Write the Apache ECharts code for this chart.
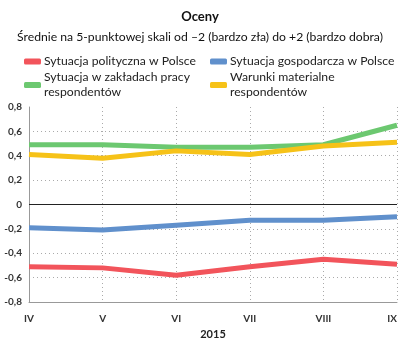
<!DOCTYPE html>
<html><head><meta charset="utf-8">
<script src="https://cdn.jsdelivr.net/npm/echarts@6/dist/echarts.min.js"></script>
<style>html,body{margin:0;padding:0;background:#fff}#c{width:400px;height:339px}</style>
</head><body><div id="c"></div>
<script>
// Months of 2015 (Roman numerals)
const months = ['IV', 'V', 'VI', 'VII', 'VIII', 'IX'];
// Mean ratings on a -2..+2 scale
const polityczna = [-0.51, -0.52, -0.58, -0.51, -0.45, -0.49];
const gospodarcza = [-0.19, -0.21, -0.17, -0.13, -0.13, -0.10];
const zaklady = [0.49, 0.49, 0.47, 0.47, 0.49, 0.65];
const warunki = [0.41, 0.38, 0.44, 0.41, 0.48, 0.51];

const names = {
  pol: 'Sytuacja polityczna w Polsce',
  gos: 'Sytuacja gospodarcza w Polsce',
  zak: 'Sytuacja w zakładach pracy\nrespondentów',
  war: 'Warunki materialne\nrespondentów'
};
const colors = { pol: '#f2545b', gos: '#6090cc', zak: '#6cc870', war: '#f6c218' };
const font = 'Lato, "Noto Sans", sans-serif';

function line(key, data, extra) {
  return Object.assign({
    name: names[key], type: 'line', data: data, symbol: 'none',
    lineStyle: { width: 5, color: colors[key] }, itemStyle: { color: colors[key] }
  }, extra || {});
}

const chart = echarts.init(document.getElementById('c'));
const legendBase = {
  orient: 'vertical', itemWidth: 17, itemHeight: 6, itemGap: 1,
  icon: 'roundRect', textStyle: { fontFamily: font, fontSize: 12.2, color: '#222', lineHeight: 15, padding: [0,0,0,-2] },
  selectedMode: false
};
chart.setOption({
  textStyle: { fontFamily: font },
  title: [
    { text: 'Oceny', left: 'center', top: 5, textStyle: { fontFamily: font, fontSize: 13, fontWeight: 'bold', color: '#111' } },
    { text: 'Średnie na 5-punktowej skali od –2 (bardzo zła) do +2 (bardzo dobra)', left: 'center', top: 26,
      textStyle: { fontFamily: font, fontSize: 12.2, fontWeight: 'normal', color: '#111' } }
  ],
  legend: [
    Object.assign({ left: 19, top: 49, data: [names.pol, names.zak] }, legendBase),
    Object.assign({ left: 205, top: 49, data: [names.gos, names.war] }, legendBase)
  ],
  grid: { left: 29, right: 3, top: 107, bottom: 37, outerBoundsMode: 'none', containLabel: false },
  xAxis: {
    type: 'category', data: months, boundaryGap: false,
    axisLine: { onZero: false, lineStyle: { color: '#999' } },
    axisTick: { show: false },
    axisLabel: { fontFamily: font, fontSize: 10, fontWeight: 'bold', color: '#333', margin: 12,
      align: 'center', alignMaxLabel: 'right' },
    splitLine: { show: true, lineStyle: { type: [1, 3], color: '#aaa' } },
    name: '2015', nameLocation: 'middle', nameGap: 26,
    nameTextStyle: { fontFamily: font, fontSize: 11, fontWeight: 'bold', color: '#222' }
  },
  yAxis: {
    type: 'value', min: -0.8, max: 0.8, interval: 0.2,
    axisLine: { show: true, lineStyle: { color: '#999' } },
    axisTick: { show: false },
    axisLabel: { fontFamily: font, fontSize: 10, fontWeight: 'bold', color: '#333', margin: 7,
      formatter: v => { const r = Math.round(v * 10) / 10; return r === 0 ? '0' : r.toFixed(1).replace('.', ','); } },
    splitLine: { show: true, showMinLine: false, showMaxLine: false, lineStyle: { type: [1, 3], color: '#aaa' } }
  },
  series: [
    line('pol', polityczna, { markLine: { silent: true, symbol: 'none', label: { show: false },
      lineStyle: { color: '#222', type: 'solid', width: 1 }, data: [{ yAxis: 0 }] } }),
    line('gos', gospodarcza),
    line('zak', zaklady),
    line('war', warunki)
  ]
});
</script></body></html>
